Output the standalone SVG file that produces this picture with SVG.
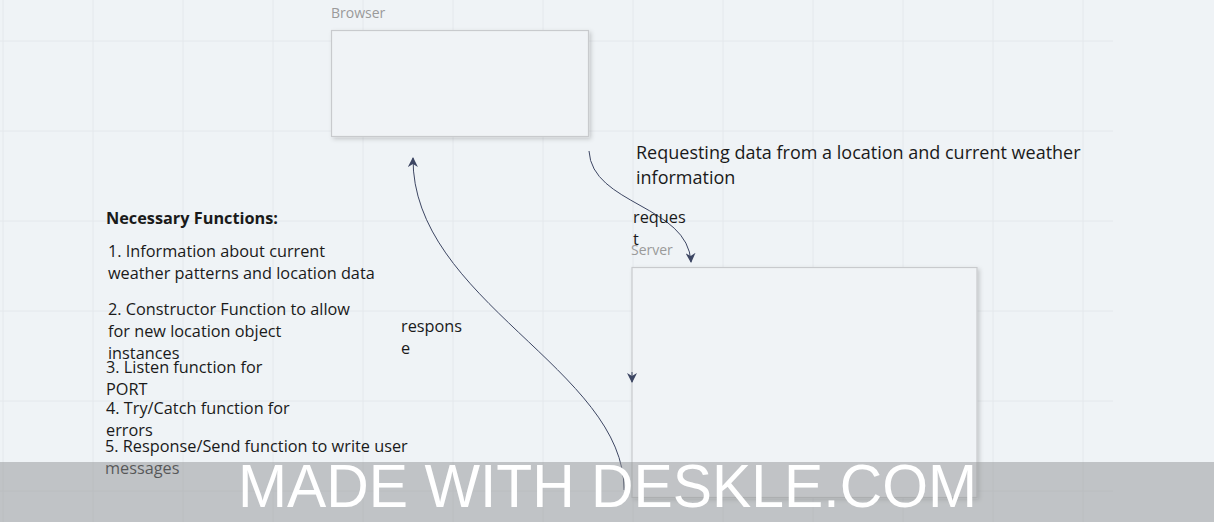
<svg xmlns="http://www.w3.org/2000/svg" width="1214" height="522" viewBox="0 0 1214 522">
<defs>
<style>
.t{font-family:"Open Sans","Liberation Sans",sans-serif;fill:#1a1a1a;font-size:16.3px}
.lbl{font-family:"Open Sans","Liberation Sans",sans-serif;fill:#9a9a9a;font-size:14px}
.grid{stroke:#e4e8ec;stroke-width:1}
.box{fill:#f0f3f6;stroke:#c8cacd;stroke-width:1.2}
.conn{fill:none;stroke:#3d4663;stroke-width:1}
</style>
<marker id="ah" viewBox="0 0 10 10" refX="9" refY="5" markerWidth="10" markerHeight="10" markerUnits="userSpaceOnUse" orient="auto">
<path d="M0,0 L10,5 L0,10 L3,5 Z" fill="#3d4663"/>
</marker>
<filter id="sh" x="-5%" y="-5%" width="115%" height="120%">
<feDropShadow dx="2" dy="2" stdDeviation="2" flood-color="#000" flood-opacity="0.18"/>
</filter>
</defs>
<rect width="1214" height="522" fill="#eff3f6"/>
<g id="grid" class="grid">
<path d="M3,0V522M93,0V522M183,0V522M273,0V522M363,0V522M453,0V522M543,0V522M633,0V522M723,0V522M813,0V522M903,0V522M993,0V522M1083,0V522"/>
<path d="M0,41H1113M0,131H1113M0,221H1113M0,311H1113M0,401H1113M0,491H1113"/>
</g>
<g id="browser">
<text class="lbl" x="331" y="18">Browser</text>
<rect class="box" x="331.5" y="30.5" width="257" height="106" filter="url(#sh)"/>
</g>
<g id="server">
<text class="lbl" x="631" y="255">Server</text>
<rect class="box" x="632" y="267.5" width="345" height="230" filter="url(#sh)"/>
</g>
<g id="request-note">
<text class="t" style="font-size:18px" x="636" y="159">Requesting data from a location and current weather</text>
<text class="t" style="font-size:18px" x="636" y="184">information</text>
</g>
<g id="functions">
<text class="t" x="106" y="224" font-weight="bold">Necessary Functions:</text>
<text class="t" x="108" y="257">1. Information about current</text>
<text class="t" x="108" y="279">weather patterns and location data</text>
<text class="t" x="108" y="315">2. Constructor Function to allow</text>
<text class="t" x="108" y="337">for new location object</text>
<text class="t" x="108" y="359">instances</text>
<text class="t" x="106" y="373">3. Listen function for</text>
<text class="t" x="106" y="395">PORT</text>
<text class="t" x="106" y="414">4. Try/Catch function for</text>
<text class="t" x="106" y="436">errors</text>
<text class="t" x="105" y="452">5. Response/Send function to write user</text>
<text class="t" x="105" y="474">messages</text>
</g>
<g id="connectors">
<path class="conn" d="M589,151 C592,205 688,205 691,262" marker-end="url(#ah)"/>
<path class="conn" d="M624,490 C625,370 412,300 413,158" marker-end="url(#ah)"/>
<path class="conn" d="M632,372 L632,382" marker-end="url(#ah)"/>
<text class="t" x="633" y="223">reques</text>
<text class="t" x="633" y="245">t</text>
<text class="t" x="401" y="332">respons</text>
<text class="t" x="401" y="354">e</text>
</g>
<g id="watermark">
<rect x="0" y="462" width="1214" height="60" fill="#919396" opacity="0.5"/>
<text x="238" y="507" font-family="Liberation Sans, Arial, sans-serif" font-size="61" fill="#ffffff" textLength="739" lengthAdjust="spacingAndGlyphs">MADE WITH DESKLE.COM</text>
</g>
</svg>
